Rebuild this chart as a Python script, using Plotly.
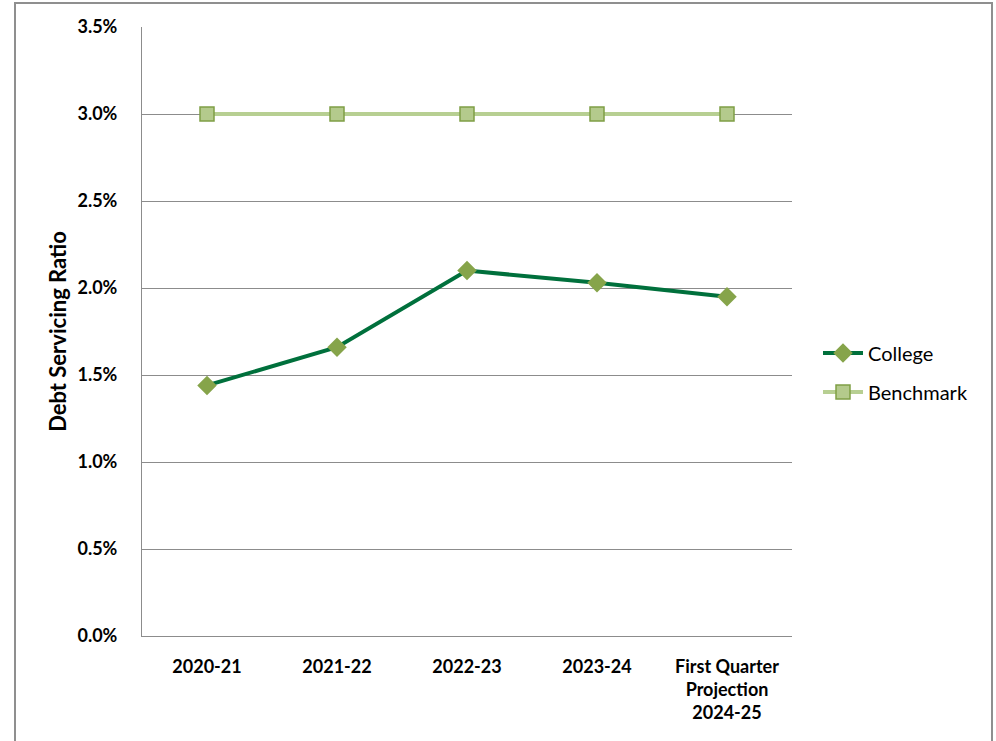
import plotly.graph_objects as go

# Fiscal years shown along the x axis
years = ["2020-21", "2021-22", "2022-23", "2023-24", "First Quarter<br>Projection<br>2024-25"]

# Debt servicing ratio, in percent
college = [1.44, 1.66, 2.10, 2.03, 1.95]
benchmark = [3.0, 3.0, 3.0, 3.0, 3.0]

y_ticks = [0.0, 0.5, 1.0, 1.5, 2.0, 2.5, 3.0, 3.5]
y_tick_labels = ["0.0%", "0.5%", "1.0%", "1.5%", "2.0%", "2.5%", "3.0%", "3.5%"]

FONT = "Lato, 'Liberation Sans', sans-serif"
GRID = "#8c8c8c"

W, H = 996, 741
L, R, T, B = 142, 204, 27, 105
PW, PH = W - L - R, H - T - B


def px_x(v):
    return (v - L) / PW


def px_y(v):
    return 1 - (v - T) / PH


fig = go.Figure()

fig.add_trace(go.Scatter(
    x=years, y=college, name="College", mode="lines+markers",
    line=dict(color="#00703c", width=4),
    marker=dict(symbol="diamond", size=15, color="#86a44a",
                line=dict(color="#86a44a", width=0)),
    legend="legend",
))

fig.add_trace(go.Scatter(
    x=years, y=benchmark, name="Benchmark", mode="lines+markers",
    line=dict(color="#b7cf92", width=4),
    marker=dict(symbol="square", size=14, color="#b4ca8c",
                line=dict(color="#7f9f45", width=1.5)),
    legend="legend2",
))

# Outer chart frame
fig.add_shape(type="rect", xref="paper", yref="paper",
              x0=px_x(15), x1=px_x(992), y0=px_y(760), y1=px_y(3),
              line=dict(color="#8f8f8f", width=2), fillcolor="rgba(0,0,0,0)",
              layer="below")

legend_style = dict(
    xanchor="left", yanchor="middle",
    font=dict(size=20, family=FONT, color="#000000"),
    itemwidth=40, bgcolor="rgba(0,0,0,0)",
)

fig.update_layout(
    width=W, height=H,
    margin=dict(l=L, r=R, t=T, b=B, autoexpand=False),
    paper_bgcolor="white", plot_bgcolor="white",
    font=dict(family=FONT, color="#000000"),
    showlegend=True,
    legend=dict(x=px_x(818), y=px_y(353), **legend_style),
    legend2=dict(x=px_x(818), y=px_y(392), **legend_style),
    xaxis=dict(
        type="category", categoryorder="array", categoryarray=years,
        range=[-0.5, len(years) - 0.5],
        showline=True, linecolor=GRID, linewidth=1,
        showgrid=False, ticks="",
        tickfont=dict(size=18, family=FONT, color="#000000", weight="bold"),
        ticklabelstandoff=14,
        zeroline=False,
    ),
    yaxis=dict(
        range=[0, 3.5], tickvals=y_ticks, ticktext=y_tick_labels,
        showline=True, linecolor=GRID, linewidth=1,
        showgrid=True, gridcolor=GRID, gridwidth=1,
        ticks="", zeroline=False,
        tickfont=dict(size=18, family=FONT, color="#000000", weight="bold"),
        ticklabelstandoff=20,
        title=dict(text="Debt Servicing Ratio", standoff=4,
                   font=dict(size=22, family=FONT, color="#000000", weight="bold")),
    ),
)

fig.write_html("out.html")
